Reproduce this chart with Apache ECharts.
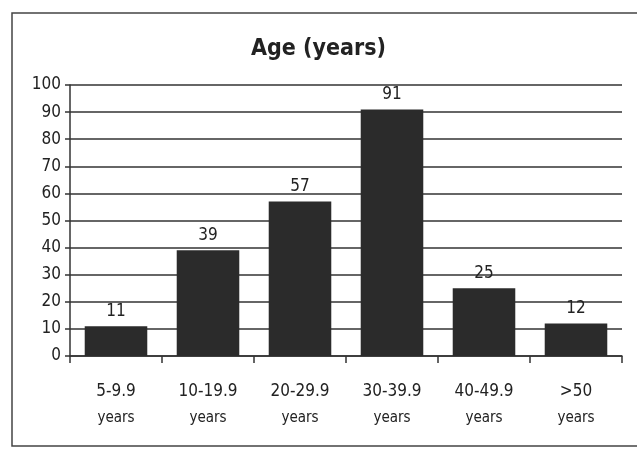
<!DOCTYPE html>
<html>
<head>
<meta charset="utf-8">
<script src="https://cdn.jsdelivr.net/npm/echarts@6/dist/echarts.min.js"></script>
<style>
  html, body { margin: 0; padding: 0; background: #fff; }
  #chart { width: 637px; height: 450px; }
</style>
</head>
<body>
<div id="chart"></div>
<script>
const ageGroups = ["5-9.9", "10-19.9", "20-29.9", "30-39.9", "40-49.9", ">50"];
const counts = [11, 39, 57, 91, 25, 12];

const font = "'DejaVu Sans Condensed', 'Liberation Sans Narrow', sans-serif";

const chart = echarts.init(document.getElementById("chart"));
chart.setOption({
  backgroundColor: "#fff",
  animation: false,
  title: {
    text: "Age (years)",
    left: "center",
    top: 33,
    textStyle: { fontFamily: font, fontSize: 23, fontWeight: "bold", color: "#222" },
  },
  graphic: [
    {
      type: "rect",
      shape: { x: 12, y: 13, width: 640, height: 433 },
      style: { fill: "none", stroke: "#444", lineWidth: 1.5 },
    },
  ],
  grid: { left: 70, right: 15, top: 85, bottom: 94 },
  xAxis: {
    type: "category",
    data: ageGroups,
    axisLine: { lineStyle: { color: "#333", width: 1.5 } },
    axisTick: { show: true, length: 7, lineStyle: { color: "#333", width: 1.5 } },
    axisLabel: {
      margin: 22,
      interval: 0,
      formatter: (v) => "{a|" + v + "}\n{b|years}",
      rich: {
        a: { fontFamily: font, fontSize: 17, color: "#222", lineHeight: 27 },
        b: { fontFamily: font, fontSize: 15, color: "#222", lineHeight: 27 },
      },
    },
  },
  yAxis: {
    type: "value",
    min: 0,
    max: 100,
    interval: 10,
    axisLine: { show: true, lineStyle: { color: "#333", width: 1.5 } },
    axisTick: { show: true, length: 5, lineStyle: { color: "#333", width: 1.5 } },
    axisLabel: { fontFamily: font, fontSize: 17, color: "#222", margin: 9 },
    splitLine: { lineStyle: { color: "#333", width: 1.5 } },
  },
  series: [
    {
      type: "bar",
      data: counts,
      barCategoryGap: "32%",
      itemStyle: { color: "#2b2b2b" },
      label: {
        show: true,
        position: "top",
        distance: 6,
        fontFamily: font,
        fontSize: 17,
        color: "#222",
      },
    },
  ],
});
</script>
</body>
</html>
